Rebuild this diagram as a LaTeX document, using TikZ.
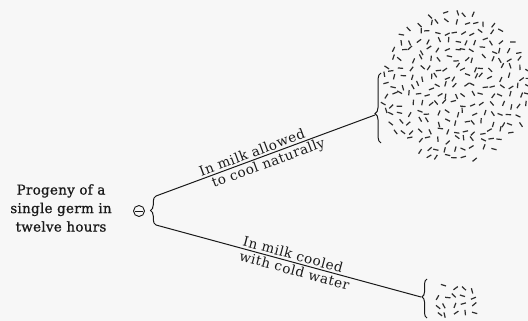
\documentclass[tikz,border=0pt]{standalone}
\usepackage{fontspec}
\setmainfont{DejaVu Serif}[LetterSpace=4]
\newfontfamily\captionfont{DejaVu Serif}[LetterSpace=2, FakeBold=0.9]
\usetikzlibrary{decorations.pathreplacing,calc}

% scatter short rod-shaped germs over a disc: #1 centre, #2 radius, #3 grid step
\newcommand\germcolony[3]{%
  \foreach \i in {-10,...,10} {
    \foreach \j in {-10,...,10} {
      \pgfmathsetmacro\px{\i*#3+3*rand}
      \pgfmathsetmacro\py{\j*#3+3*rand}
      \pgfmathsetmacro\ang{180*rnd}
      \pgfmathtruncatemacro\inside{((\px/10)^2+(\py/10)^2 < (#2/10)^2) ? 1 : 0}
      \ifnum\inside=1
        \draw[germ] ([shift={(\px,\py)}]#1) +(\ang:2.7) -- +(\ang+180:2.7);
      \fi
    }
  }%
}

\begin{document}
\begin{tikzpicture}[x=1pt,y=-1pt,
  ink/.style={draw=black!90, line width=1pt},
  txt/.style={font=\fontsize{13.5}{18.5}\selectfont, text=black!90, inner sep=1.8pt},
  curly/.style={decorate, decoration={brace, amplitude=#1}, draw=black!90, line width=1pt},
  germ/.style={draw=black!82, line width=1.2pt},
]
\clip (0,0) rectangle (528,321);
\fill[black!3] (0,0) rectangle (528,321);
\pgfmathsetseed{1907}

% the single germ and its caption
\node[txt, font=\captionfont\fontsize{13.5}{18.5}\selectfont, align=center] (progeny) at (61,208) {Progeny of a\\single germ in\\twelve hours};
\node[circle, draw=black!90, line width=0.9pt, minimum size=11pt, inner sep=0pt] (seed) at (139,211) {};
\draw[black!90, line width=0.9pt] ([xshift=2.2pt]seed.west) -- ([xshift=-2.2pt]seed.east);

% branching brace
\coordinate (splitTop) at (156,196);
\coordinate (splitBot) at (156,225);
\draw[curly=5.5pt] (splitBot) -- (splitTop);

% colony grown in warm milk
\coordinate (warmC) at (456,86);
\coordinate (warmTip) at (375,115);
\draw[curly=6pt, decoration={aspect=0.42}] (381,143) -- (381,73);
\germcolony{warmC}{76}{9}

% colony grown in cooled milk
\coordinate (coldC) at (455,306);
\coordinate (coldTip) at (421,297);
\draw[curly=5pt, decoration={aspect=0.54}] (427,318) -- (427,279);
\germcolony{coldC}{24}{9}

% connectors with their conditions
\draw[ink] (splitTop) --
  node[txt, sloped, above, pos=0.45] {In milk allowed}
  node[txt, sloped, below, pos=0.5] {to cool naturally} (warmTip);
\draw[ink] (splitBot) --
  node[txt, sloped, above, pos=0.51] {In milk cooled}
  node[txt, sloped, below, pos=0.53] {with cold water} (coldTip);
\end{tikzpicture}
\end{document}
